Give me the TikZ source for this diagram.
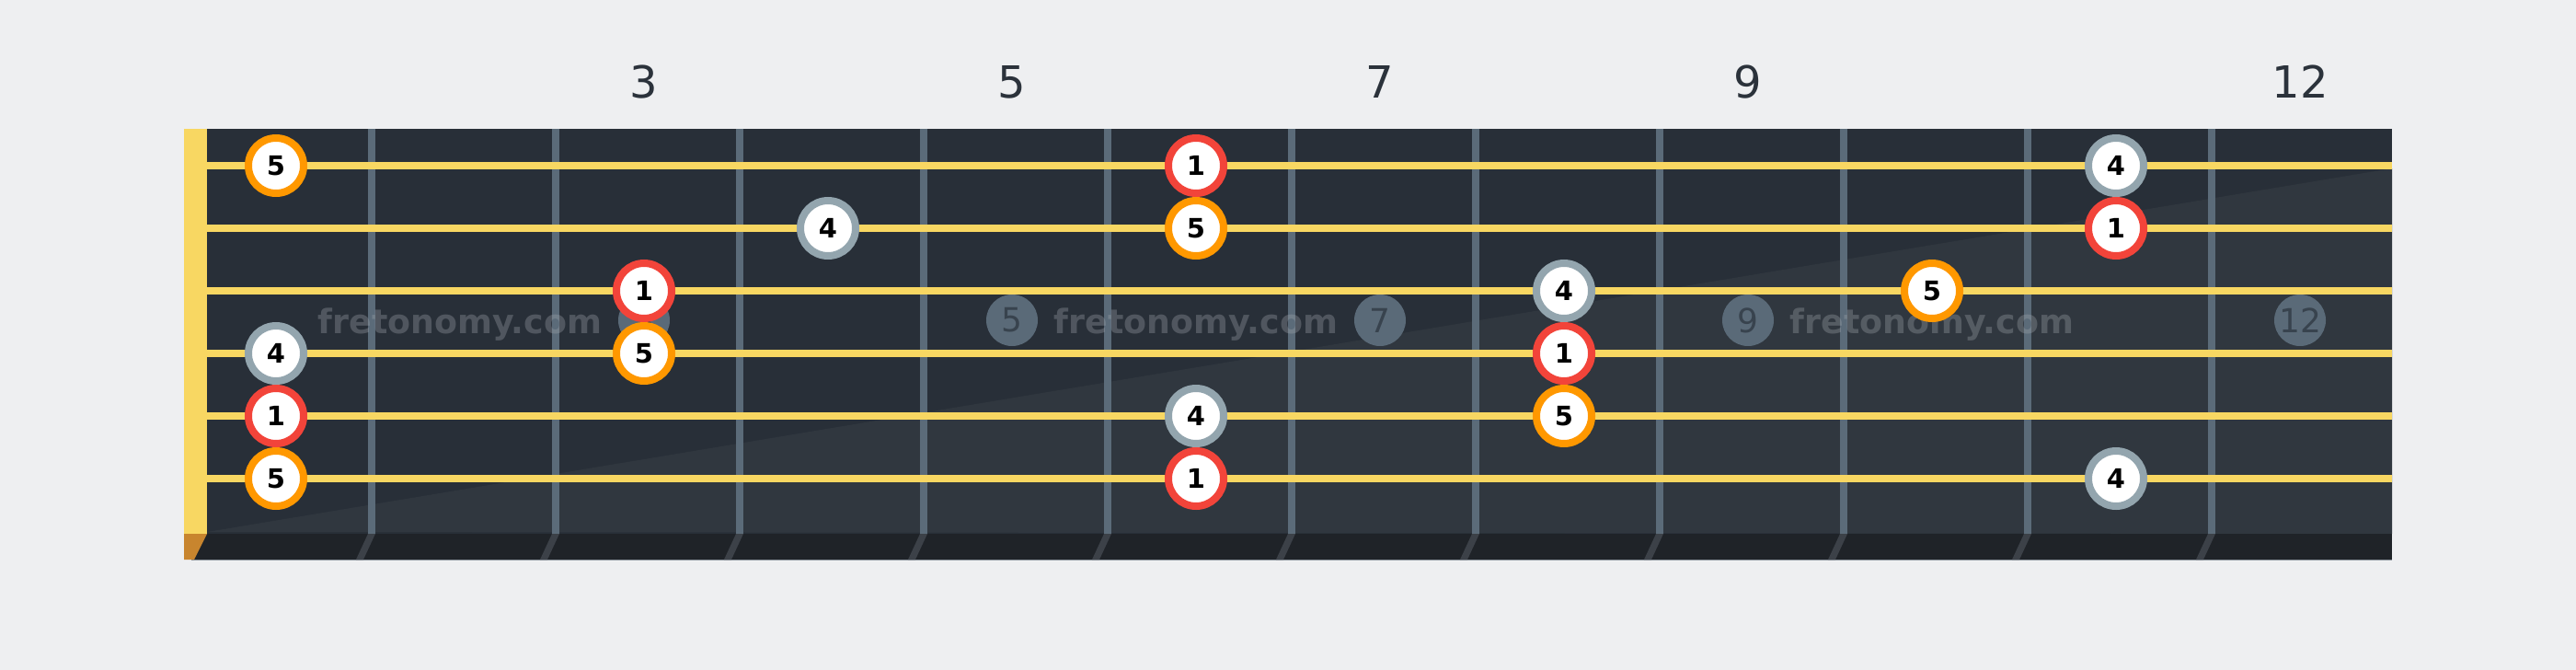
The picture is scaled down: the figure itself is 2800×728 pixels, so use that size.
\documentclass[tikz,border=0pt]{standalone}
\usepackage{fontspec}
\setmainfont{DejaVu Sans}
\usetikzlibrary{positioning}

\definecolor{pagebg}{HTML}{EEEFF1}
\definecolor{board}{HTML}{282F38}
\definecolor{boardlight}{HTML}{30373F}
\definecolor{strip}{HTML}{1F2328}
\definecolor{stripedge}{HTML}{8C939B}
\definecolor{stringyellow}{HTML}{F8D762}
\definecolor{fretgray}{HTML}{5B6B79}
\definecolor{fretshadow}{HTML}{3C4148}
\definecolor{nutbrown}{HTML}{C8852E}
\definecolor{ringred}{HTML}{F2443A}
\definecolor{ringgray}{HTML}{93A5AE}
\definecolor{ringorange}{HTML}{FF9800}
\definecolor{inlaygray}{HTML}{5A6A78}
\definecolor{inlaytext}{HTML}{38434E}
\definecolor{numtext}{HTML}{2B323B}
\definecolor{marktext}{HTML}{A3A8AF}

\begin{document}
\begin{tikzpicture}[
        x=0.5pt, y=-0.5pt,
        fingerdot/.style={circle, draw, fill=white, line width=4pt, minimum size=30pt, inner sep=0pt,
          text=black, font=\fontsize{14.5pt}{16pt}\selectfont\bfseries},
        one/.style={fingerdot, draw=ringred},
        four/.style={fingerdot, draw=ringgray},
        five/.style={fingerdot, draw=ringorange},
        inlay/.style={circle, fill=inlaygray, minimum size=28pt, inner sep=0pt,
          text=inlaytext, font=\fontsize{18pt}{20pt}\selectfont},
        fretnum/.style={text=numtext, font=\fontsize{24pt}{28pt}\selectfont},
        watermark/.style={anchor=base, text=marktext, text opacity=0.33,
          font=\fontsize{18.2pt}{20pt}\selectfont\bfseries}]
      \fill[pagebg] (0,0) rectangle (2800,728);
      \fill[board] (225,140) rectangle (2600,580);
      \fill[boardlight] (225,578) -- (2600,183) -- (2600,580) -- cycle;
      \fill[strip] (200,580) rectangle (2600,608);
      \draw[stripedge, line width=0.6pt] (208,608.5) -- (2600,608.5);
      \fill[stringyellow] (200,140) rectangle (225,580);
      \fill[nutbrown] (200,580) -- (225,580) -- (211,608) -- (200,608) -- cycle;
      \foreach \n in {1,...,11} {
        \fill[fretgray] ({200+200*\n},140) rectangle ({208+200*\n},580);
        \fill[fretshadow] ({200+200*\n},580) -- ({208+200*\n},580) -- ({195+200*\n},608) -- ({187+200*\n},608) -- cycle;
      }
      \foreach \n in {3,5,7,9,12}
        \node[inlay] (inlay\n) at ({100+200*\n},348) {\n};
      \node[watermark] (mark1) at (500,362) {fretonomy.com};
      \node[watermark] (mark2) at (1300,362) {fretonomy.com};
      \node[watermark] (mark3) at (2100,362) {fretonomy.com};
      \foreach \s in {1,...,6}
        \fill[stringyellow] (225,{108+68*\s}) rectangle (2600,{116+68*\s});
      \foreach \n in {3,5,7,9,12}
        \node[fretnum] (top\n) at ({100+200*\n},89) {\n};
      \node[five] (e1) at (300,180) {5};
      \node[one]  (e6) at (1300,180) {1};
      \node[four] (e11) at (2300,180) {4};
      \node[four] (b4) at (900,248) {4};
      \node[five] (b6) at (1300,248) {5};
      \node[one]  (b11) at (2300,248) {1};
      \node[one]  (g3) at (700,316) {1};
      \node[four] (g8) at (1700,316) {4};
      \node[five] (g10) at (2100,316) {5};
      \node[four] (d1) at (300,384) {4};
      \node[five] (d3) at (700,384) {5};
      \node[one]  (d8) at (1700,384) {1};
      \node[one]  (a1) at (300,452) {1};
      \node[four] (a6) at (1300,452) {4};
      \node[five] (a8) at (1700,452) {5};
      \node[five] (low1) at (300,520) {5};
      \node[one]  (low6) at (1300,520) {1};
      \node[four] (low11) at (2300,520) {4};
    \end{tikzpicture}
\end{document}
